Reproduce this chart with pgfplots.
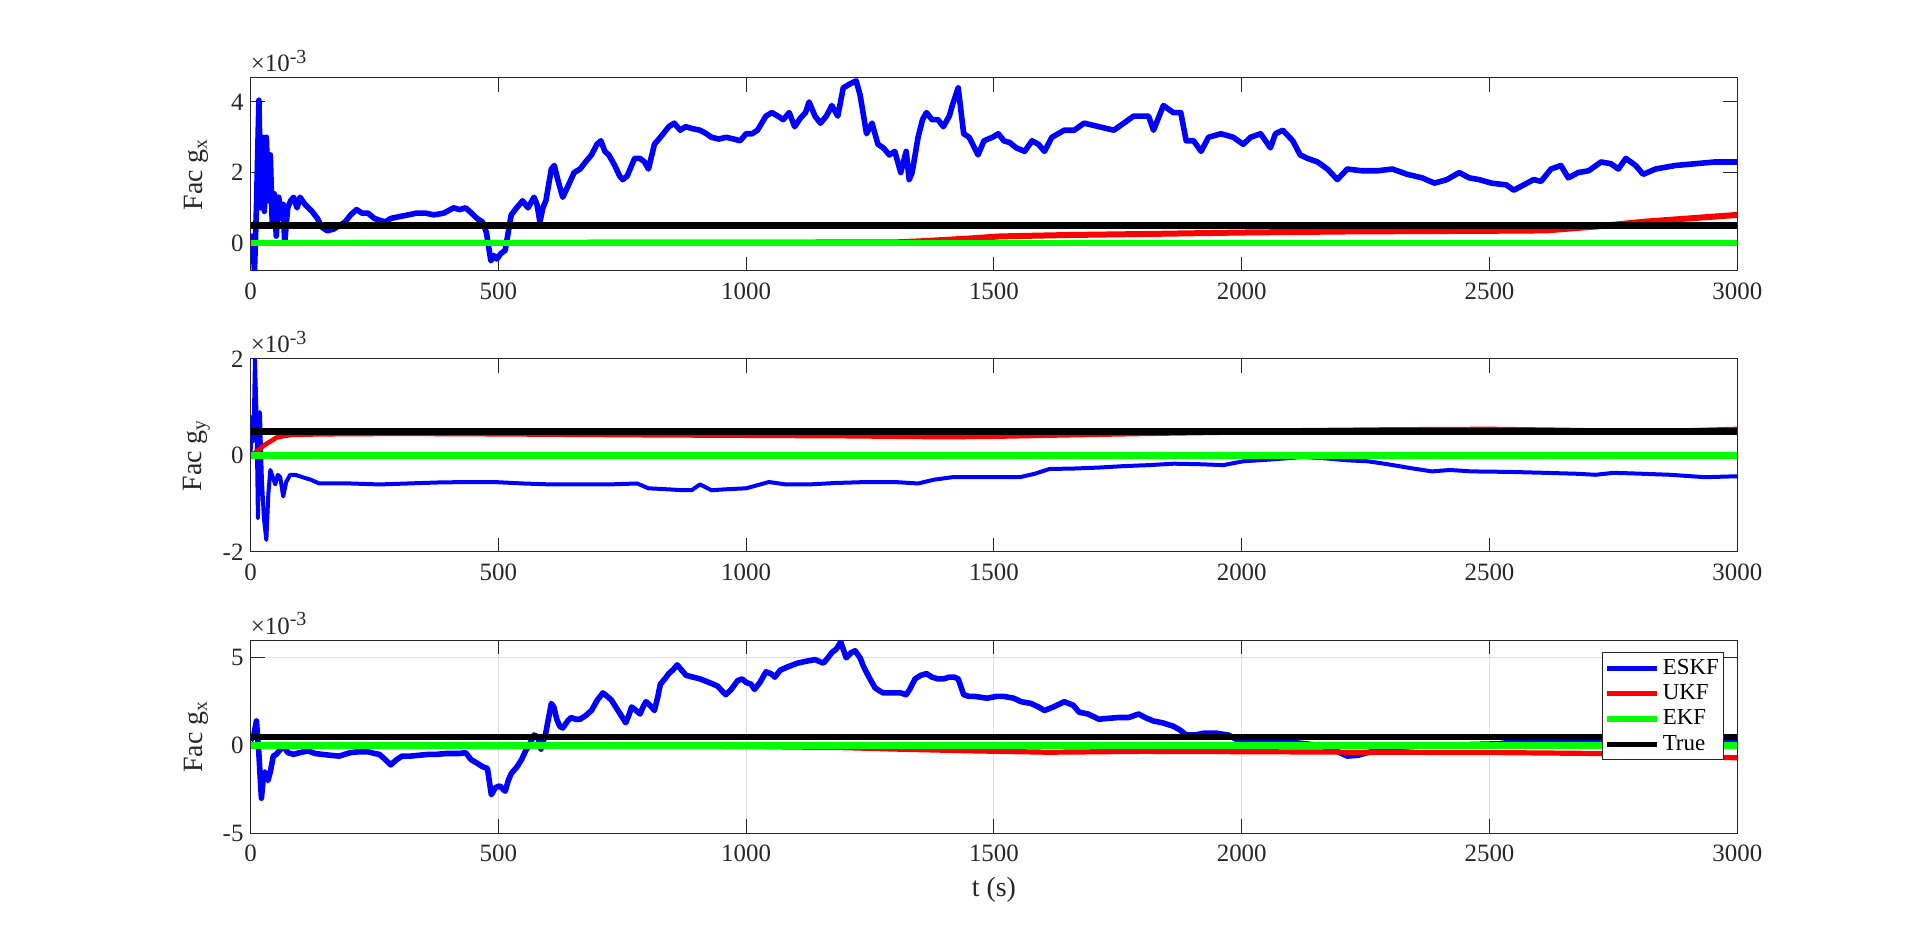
\documentclass[border=0pt]{standalone}
\usepackage{fontspec}
\setmainfont{Liberation Serif}
\usepackage{pgfplots}
\pgfplotsset{compat=1.18}
\definecolor{axgray}{rgb}{0.15,0.15,0.15}
\definecolor{gridgray}{rgb}{0.87,0.87,0.87}
\definecolor{eskf}{rgb}{0,0,1}
\definecolor{ukf}{rgb}{1,0,0}
\definecolor{ekf}{rgb}{0,1,0}
\pgfplotsset{
  panel/.style={
    scale only axis, width=743.4bp, height=96.5bp,
    xmin=0, xmax=3000, xtick={0,500,...,3000}, scaled ticks=false,
    tick align=inside, major tick length=7bp, tick pos=both,
    axis line style={axgray, line width=0.5bp},
    tick style={axgray, line width=0.5bp},
    ticklabel style={font=\fontsize{12.5}{14}\selectfont, text=axgray},
    xticklabel style={yshift=-2.5bp},
    /pgf/number format/assume math mode=true,
    /pgf/number format/1000 sep={},
    label style={font=\fontsize{14}{16}\selectfont, text=axgray},
    ylabel style={at={(axis description cs:-0.0363,0.5)}, anchor=center},
    extra description/.code={\node[anchor=south west, inner sep=0pt, yshift=2.7bp,
      font=\fontsize{12.5}{14}\selectfont, text=axgray] at (axis description cs:0,1) {×10\textsuperscript{\fontsize{10}{12}\selectfont -3}};},
  },
  eskfst/.style={eskf, line width=2.8bp, line join=round},
  ukfst/.style={ukf, line width=2.8bp, line join=round},
  ekfst/.style={ekf, line width=3.3bp},
  truest/.style={black, line width=3.2bp},
}
\begin{document}
\begin{tikzpicture}
\useasboundingbox (0,0) rectangle (960bp,468.5bp);
% ---------------- Panel 1 ----------------
\begin{axis}[panel, at={(125.25bp,333bp)}, anchor=south west,
  ymin=-0.79, ymax=4.68, ytick={0,2,4}, ylabel={Fac g\textsubscript{x}}]
\addplot[eskfst] table[row sep=\\] {t v\\
0 0.0\\ 4 0.2\\ 8 -0.8\\ 12 1.0\\ 17 4.05\\ 21 1.0\\ 24 3.0\\ 28 0.9\\ 32 3.0\\ 36 1.2\\
40 2.5\\ 44 0.5\\ 48 1.4\\ 52 0.2\\ 57 1.3\\ 62 0.7\\ 66 1.1\\ 69 0.0\\ 75 1.0\\ 81 1.2\\
87 1.3\\ 94 1.0\\ 100 1.3\\ 110 1.1\\ 124 0.9\\ 135 0.7\\ 144 0.45\\ 155 0.35\\ 168 0.4\\ 180 0.5\\
191 0.6\\ 202 0.8\\ 214 0.95\\ 225 0.85\\ 237 0.85\\ 250 0.7\\ 260 0.65\\ 272 0.6\\ 283 0.7\\ 300 0.75\\
318 0.8\\ 335 0.85\\ 353 0.85\\ 370 0.8\\ 390 0.85\\ 410 1.0\\ 422 0.95\\ 434 1.0\\ 446 0.85\\ 457 0.7\\
468 0.6\\ 476 0.3\\ 485 -0.5\\ 491 -0.35\\ 497 -0.45\\ 505 -0.3\\ 514 -0.2\\ 520 0.3\\ 526 0.8\\ 537 1.0\\
549 1.2\\ 560 1.0\\ 572 1.3\\ 578 1.1\\ 584 0.6\\ 590 1.0\\ 596 1.2\\ 607 2.1\\ 613 2.2\\ 620 1.8\\
630 1.3\\ 640 1.6\\ 653 2.0\\ 665 2.1\\ 676 2.3\\ 688 2.5\\ 699 2.8\\ 707 2.9\\ 715 2.6\\ 723 2.5\\
735 2.2\\ 745 1.9\\ 751 1.8\\ 760 1.9\\ 769 2.2\\ 775 2.4\\ 786 2.4\\ 795 2.3\\ 803 2.1\\ 815 2.8\\
827 3.0\\ 844 3.3\\ 855 3.4\\ 867 3.2\\ 878 3.3\\ 890 3.25\\ 907 3.2\\ 920 3.1\\ 930 3.0\\ 945 2.95\\
960 3.0\\ 975 2.95\\ 988 2.9\\ 1000 3.1\\ 1012 3.1\\ 1023 3.2\\ 1040 3.6\\ 1052 3.7\\ 1064 3.6\\ 1075 3.5\\
1087 3.7\\ 1098 3.3\\ 1110 3.55\\ 1120 3.7\\ 1127 4.0\\ 1139 3.6\\ 1150 3.4\\ 1162 3.6\\ 1173 3.9\\ 1185 3.6\\
1196 4.4\\ 1208 4.5\\ 1222 4.6\\ 1230 4.2\\ 1243 3.1\\ 1254 3.4\\ 1266 2.8\\ 1277 2.7\\ 1289 2.5\\ 1300 2.6\\
1312 2.0\\ 1323 2.6\\ 1329 1.8\\ 1335 2.0\\ 1347 3.0\\ 1356 3.5\\ 1364 3.7\\ 1375 3.5\\ 1387 3.5\\ 1398 3.3\\
1410 3.6\\ 1416 3.9\\ 1428 4.4\\ 1439 3.1\\ 1450 3.0\\ 1468 2.5\\ 1480 2.9\\ 1497 3.0\\ 1509 3.1\\ 1520 2.9\\
1532 2.85\\ 1545 2.7\\ 1562 2.6\\ 1577 2.9\\ 1590 2.8\\ 1602 2.6\\ 1617 3.0\\ 1642 3.2\\ 1662 3.2\\ 1682 3.4\\
1712 3.3\\ 1742 3.2\\ 1762 3.4\\ 1782 3.6\\ 1800 3.6\\ 1812 3.6\\ 1822 3.2\\ 1842 3.9\\ 1862 3.7\\ 1877 3.7\\
1888 2.9\\ 1903 2.9\\ 1918 2.6\\ 1933 3.0\\ 1958 3.1\\ 1983 3.0\\ 2003 2.8\\ 2018 3.0\\ 2038 3.1\\ 2058 2.7\\
2068 3.1\\ 2083 3.2\\ 2103 2.9\\ 2118 2.5\\ 2133 2.4\\ 2153 2.3\\ 2173 2.1\\ 2193 1.8\\ 2213 2.1\\ 2243 2.05\\
2274 2.05\\ 2304 2.1\\ 2334 1.95\\ 2364 1.85\\ 2389 1.7\\ 2414 1.8\\ 2439 2.0\\ 2459 1.85\\ 2479 1.8\\ 2504 1.7\\
2534 1.65\\ 2549 1.5\\ 2569 1.65\\ 2589 1.8\\ 2604 1.75\\ 2624 2.1\\ 2644 2.2\\ 2659 1.85\\ 2679 2.0\\ 2700 2.05\\
2725 2.3\\ 2745 2.25\\ 2760 2.1\\ 2775 2.4\\ 2795 2.2\\ 2810 1.95\\ 2835 2.1\\ 2875 2.2\\ 2915 2.25\\ 2955 2.3\\
3000 2.3\\
};
\addplot[ukfst, line width=3bp] table[row sep=\\] {t v\\
0 0\\ 1300 0.02\\ 1350 0.05\\ 1450 0.13\\ 1512 0.19\\ 1650 0.23\\ 1812 0.26\\ 2000 0.3\\ 2213 0.33\\
2514 0.35\\ 2614 0.36\\ 2714 0.47\\ 2815 0.61\\ 3000 0.8\\
};
\addplot[ekfst] table[row sep=\\] {t v\\ 0 0\\ 3000 0\\};
\addplot[truest] table[row sep=\\] {t v\\ 0 0.5\\ 3000 0.5\\};
\end{axis}
% ---------------- Panel 2 ----------------
\begin{axis}[panel, at={(125.25bp,192.5bp)}, anchor=south west,
  ymin=-2, ymax=2, ytick={-2,0,2}, ylabel={Fac g\textsubscript{y}}]
\addplot[eskfst, line width=2bp] table[row sep=\\] {t v\\
0 0.0\\ 3 0.8\\ 6 0.3\\ 9 2.0\\ 12 0.9\\ 15 -1.3\\ 19 0.9\\ 23 -0.5\\ 27 -1.3\\ 32 -1.75\\
36 -0.8\\ 40 -0.3\\ 45 -0.45\\ 50 -0.6\\ 55 -0.4\\ 60 -0.45\\ 66 -0.85\\ 72 -0.55\\ 80 -0.4\\ 90 -0.4\\
105 -0.45\\ 121 -0.5\\ 139 -0.58\\ 170 -0.58\\ 202 -0.58\\ 260 -0.6\\ 318 -0.58\\ 376 -0.56\\ 434 -0.55\\ 491 -0.55\\
550 -0.58\\ 607 -0.6\\ 665 -0.6\\ 723 -0.6\\ 780 -0.58\\ 803 -0.68\\ 840 -0.7\\ 873 -0.72\\ 890 -0.72\\ 907 -0.6\\
930 -0.72\\ 960 -0.7\\ 1000 -0.68\\ 1046 -0.55\\ 1080 -0.6\\ 1127 -0.6\\ 1180 -0.57\\ 1243 -0.55\\ 1300 -0.55\\ 1347 -0.58\\
1380 -0.5\\ 1416 -0.45\\ 1460 -0.45\\ 1509 -0.45\\ 1552 -0.45\\ 1582 -0.38\\ 1612 -0.28\\ 1662 -0.27\\ 1712 -0.25\\ 1762 -0.22\\
1812 -0.2\\ 1863 -0.17\\ 1913 -0.18\\ 1963 -0.2\\ 2003 -0.12\\ 2063 -0.08\\ 2123 -0.03\\ 2170 -0.06\\ 2213 -0.1\\ 2254 -0.12\\
2294 -0.18\\ 2340 -0.26\\ 2384 -0.33\\ 2420 -0.3\\ 2464 -0.33\\ 2540 -0.34\\ 2614 -0.36\\ 2680 -0.38\\ 2714 -0.4\\ 2750 -0.36\\
2785 -0.37\\ 2865 -0.4\\ 2935 -0.45\\ 3000 -0.43\\
};
\addplot[ukfst, line width=2.3bp] table[row sep=\\] {t v\\
0 0\\ 8 0.05\\ 17 0.12\\ 26 0.2\\ 35 0.26\\ 45 0.32\\ 52 0.37\\ 70 0.41\\ 87 0.43\\ 150 0.44\\
300 0.45\\ 500 0.44\\ 800 0.42\\ 1000 0.41\\ 1200 0.4\\ 1400 0.38\\ 1500 0.39\\ 1650 0.42\\ 1812 0.45\\ 2000 0.48\\
2100 0.52\\ 2300 0.54\\ 2500 0.55\\ 2650 0.53\\ 2800 0.5\\ 2900 0.52\\ 3000 0.55\\
};
\addplot[ekfst] table[row sep=\\] {t v\\ 0 0\\ 3000 0\\};
\addplot[truest] table[row sep=\\] {t v\\ 0 0.5\\ 3000 0.5\\};
\end{axis}
% ---------------- Panel 3 ----------------
\begin{axis}[panel, at={(125.25bp,51.85bp)}, anchor=south west,
  ymin=-5, ymax=6, ytick={-5,0,5}, ylabel={Fac g\textsubscript{x}}, xlabel={t (s)},
  xlabel style={at={(axis description cs:0.5,0)}, yshift=-28.3bp, anchor=center},
  grid=major, grid style={gridgray, line width=0.5bp},
  legend style={at={(axis description cs:1,1)}, anchor=north east, xshift=-6.5bp, yshift=-6bp,
    draw=axgray, line width=0.5bp, font=\fontsize{11.5}{13.5}\selectfont, text=black,
    inner xsep=1bp, inner ysep=1.5bp, row sep=0pt, nodes={inner xsep=1.5bp, inner ysep=1.8bp}},
  legend cell align=left,
  legend image code/.code={\draw[#1, line width=2.6bp] (0bp,0bp) -- (25bp,0bp);}]
\addplot[eskfst] table[row sep=\\] {t v\\
0 0.3\\ 6 0.5\\ 12 1.4\\ 17 -0.5\\ 22 -3.0\\ 26 -1.8\\ 29 -1.5\\ 35 -2.0\\ 40 -1.5\\ 46 -0.6\\
52 -0.5\\ 58 -0.3\\ 66 0.0\\ 75 -0.4\\ 87 -0.5\\ 100 -0.4\\ 116 -0.3\\ 130 -0.45\\ 144 -0.5\\ 160 -0.55\\
179 -0.6\\ 190 -0.5\\ 202 -0.4\\ 220 -0.35\\ 237 -0.35\\ 250 -0.45\\ 260 -0.5\\ 272 -0.8\\ 283 -1.1\\ 295 -0.8\\
306 -0.6\\ 323 -0.6\\ 341 -0.55\\ 360 -0.5\\ 376 -0.5\\ 395 -0.45\\ 410 -0.45\\ 422 -0.45\\ 434 -0.4\\ 445 -0.8\\
457 -1.0\\ 468 -1.2\\ 478 -1.3\\ 486 -2.8\\ 494 -2.4\\ 503 -2.3\\ 510 -2.5\\ 514 -2.6\\ 520 -2.0\\ 526 -1.6\\
532 -1.4\\ 538 -1.2\\ 547 -0.8\\ 555 -0.3\\ 562 0.0\\ 572 0.6\\ 580 0.5\\ 586 -0.2\\ 590 0.2\\ 595 0.6\\
601 1.5\\ 607 2.4\\ 612 2.2\\ 618 1.5\\ 624 1.1\\ 630 1.0\\ 640 1.4\\ 647 1.6\\ 656 1.5\\ 665 1.5\\
676 1.7\\ 688 2.0\\ 700 2.6\\ 711 3.0\\ 720 2.8\\ 728 2.6\\ 737 2.2\\ 746 1.8\\ 757 1.3\\ 763 1.7\\
769 2.2\\ 778 2.0\\ 786 1.8\\ 792 2.2\\ 798 2.5\\ 806 2.3\\ 815 2.0\\ 822 2.8\\ 827 3.5\\ 836 3.8\\
844 4.1\\ 852 4.3\\ 861 4.6\\ 870 4.3\\ 879 4.0\\ 893 3.9\\ 907 3.8\\ 925 3.6\\ 942 3.4\\ 952 3.1\\
959 2.9\\ 970 3.2\\ 983 3.7\\ 992 3.8\\ 1000 3.6\\ 1010 3.5\\ 1017 3.2\\ 1028 3.6\\ 1040 4.2\\ 1050 4.1\\
1058 3.9\\ 1069 4.3\\ 1085 4.5\\ 1104 4.7\\ 1120 4.8\\ 1139 4.9\\ 1156 4.7\\ 1165 5.0\\ 1173 5.3\\ 1182 5.5\\
1191 5.9\\ 1202 5.0\\ 1212 5.3\\ 1220 5.4\\ 1230 5.0\\ 1237 4.5\\ 1248 3.9\\ 1260 3.3\\ 1270 3.1\\ 1277 3.0\\
1290 3.0\\ 1300 3.0\\ 1312 3.0\\ 1323 2.9\\ 1330 3.2\\ 1341 3.8\\ 1352 4.0\\ 1364 4.1\\ 1375 3.9\\ 1387 3.8\\
1398 3.8\\ 1410 3.9\\ 1420 3.9\\ 1428 3.8\\ 1439 2.9\\ 1450 2.8\\ 1462 2.8\\ 1486 2.7\\ 1505 2.8\\ 1520 2.8\\
1540 2.7\\ 1555 2.5\\ 1575 2.4\\ 1590 2.2\\ 1602 2.0\\ 1620 2.2\\ 1642 2.5\\ 1660 2.3\\ 1672 1.9\\ 1690 1.8\\
1712 1.5\\ 1730 1.55\\ 1752 1.6\\ 1772 1.6\\ 1792 1.8\\ 1805 1.6\\ 1822 1.4\\ 1840 1.3\\ 1862 1.1\\ 1875 0.9\\
1888 0.6\\ 1905 0.6\\ 1923 0.7\\ 1950 0.7\\ 1973 0.6\\ 1993 0.3\\ 2030 0.2\\ 2063 0.2\\ 2090 0.15\\ 2113 0.15\\
2160 0.0\\ 2190 -0.3\\ 2213 -0.6\\ 2235 -0.55\\ 2254 -0.4\\ 2290 -0.2\\ 2314 -0.1\\ 2380 0.0\\ 2450 0.05\\ 2520 0.1\\
2564 0.3\\ 2620 0.25\\ 2714 0.2\\ 2800 0.25\\ 2900 0.2\\ 3000 0.2\\
};
\addlegendentry{ESKF}
\addplot[ukfst, line width=2.6bp] table[row sep=\\] {t v\\
0 0\\ 500 -0.02\\ 1000 -0.05\\ 1200 -0.12\\ 1300 -0.2\\ 1450 -0.3\\ 1610 -0.38\\ 1800 -0.33\\ 2013 -0.35\\
2250 -0.38\\ 2514 -0.4\\ 2714 -0.45\\ 2850 -0.55\\ 3000 -0.7\\
};
\addlegendentry{UKF}
\addplot[ekfst] table[row sep=\\] {t v\\ 0 0\\ 3000 0\\};
\addlegendentry{EKF}
\addplot[truest] table[row sep=\\] {t v\\ 0 0.5\\ 3000 0.5\\};
\addlegendentry{True}
\end{axis}
\end{tikzpicture}
\end{document}
